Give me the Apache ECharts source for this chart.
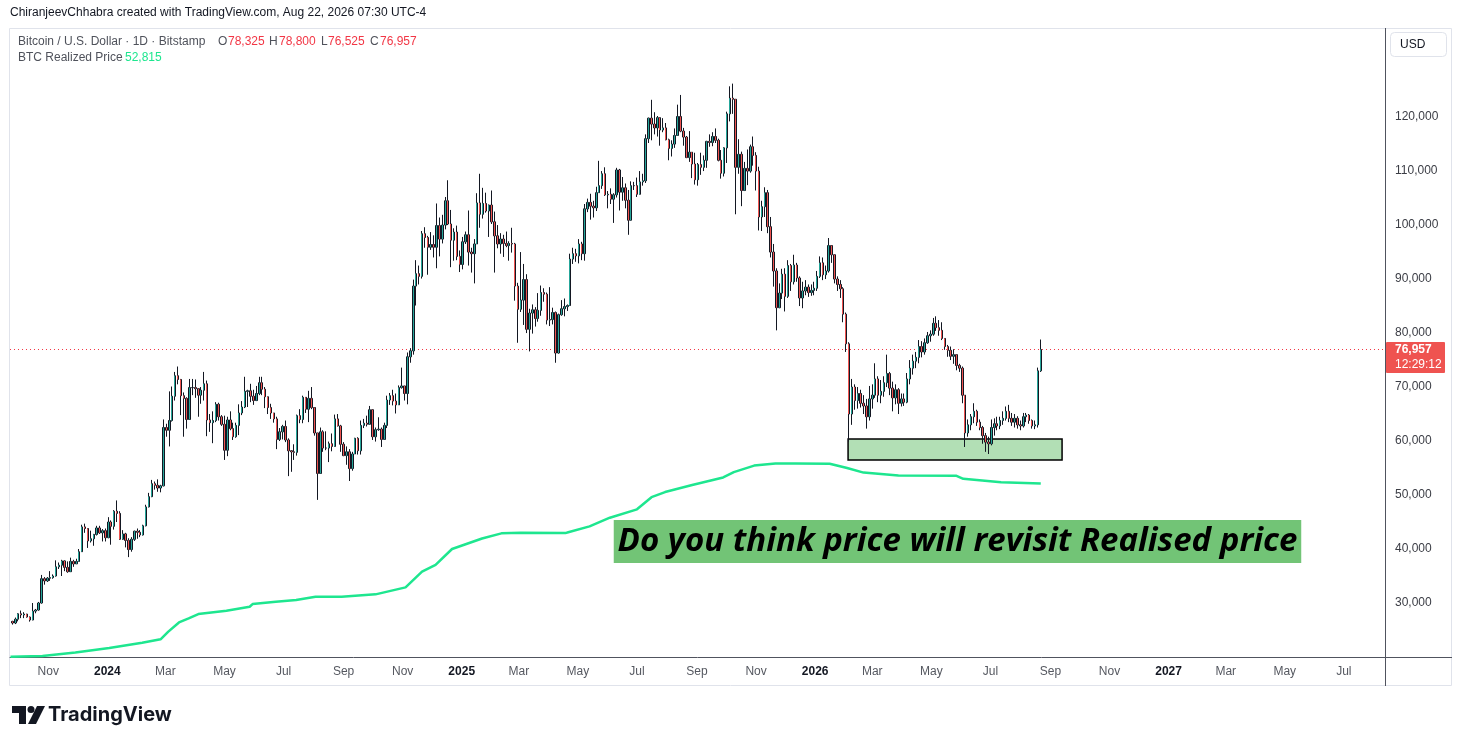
<!DOCTYPE html>
<html>
<head>
<meta charset="utf-8">
<script src="https://cdn.jsdelivr.net/npm/echarts@6.0.0/dist/echarts.min.js"></script>
<style>
html,body{margin:0;padding:0;background:#fff;}
#chart{width:1461px;height:745px;}
</style>
</head>
<body>
<div id="chart"></div>
<script>
// ---------------- DATA ----------------
// 3-day candles (values in thousands USD), first candle ends 2023-09-25, last ends 2026-08-22
const candleStart = '2023-09-25';
const candleStepDays = 3;
const firstOpen = 26.6;
const closes = [
  26.3, 27.0, 28.0, 27.8, 27.95, 27.4, 26.85, 28.5, 28.7, 30.0,
  34.5, 34.1, 34.6, 34.7, 35.0, 36.7, 37.0, 37.8, 36.6, 35.8,
  37.7, 37.25, 37.7, 39.5, 44.1, 43.8, 41.5, 41.9, 42.7, 43.9,
  43.0, 43.4, 42.1, 45.0, 44.2, 47.0, 46.6, 41.8, 42.8, 41.6,
  39.9, 41.8, 43.3, 43.1, 42.6, 44.3, 47.8, 49.7, 52.1, 51.8,
  51.3, 51.7, 62.5, 62.0, 63.8, 68.3, 72.1, 71.4, 68.4, 67.9,
  64.0, 69.9, 69.9, 69.7, 68.5, 69.4, 70.6, 63.9, 63.4, 63.8,
  66.8, 64.5, 63.1, 58.3, 63.9, 62.3, 60.8, 62.9, 65.2, 66.3,
  69.2, 69.3, 68.3, 67.5, 68.8, 70.8, 69.6, 68.2, 66.2, 65.2,
  64.1, 60.3, 61.7, 62.7, 60.2, 58.2, 58.0, 57.9, 64.7, 64.0,
  68.1, 65.9, 67.9, 66.2, 61.5, 54.0, 61.7, 58.7, 58.7, 59.5,
  59.0, 64.1, 62.8, 59.4, 57.3, 58.0, 54.9, 57.6, 60.5, 58.2,
  62.9, 63.3, 63.1, 65.8, 60.8, 62.1, 62.2, 60.3, 62.9, 67.6,
  68.4, 67.4, 66.7, 69.9, 70.2, 68.8, 75.6, 76.7, 88.7, 91.0,
  90.5, 98.4, 97.7, 95.9, 96.4, 95.9, 99.9, 97.4, 100.0, 104.5,
  100.2, 97.2, 98.7, 94.2, 92.7, 96.9, 98.2, 95.0, 94.7, 96.5,
  104.1, 102.0, 104.0, 102.6, 103.7, 100.6, 98.0, 96.5, 97.4, 96.6,
  96.2, 96.6, 96.5, 88.7, 84.4, 86.1, 89.9, 80.7, 83.7, 84.3,
  82.7, 84.2, 87.5, 87.2, 82.4, 82.5, 83.8, 76.3, 83.4, 84.5,
  84.9, 85.1, 93.7, 94.7, 94.3, 96.5, 94.7, 103.0, 104.2, 103.5,
  103.2, 106.0, 107.3, 109.5, 105.6, 105.7, 104.8, 105.6, 110.2, 106.1,
  106.9, 104.6, 100.9, 107.3, 107.3, 105.7, 108.0, 108.2, 116.0, 119.8,
  118.7, 118.0, 119.9, 117.6, 118.0, 115.8, 114.2, 115.0, 116.6, 120.1,
  117.4, 116.3, 112.5, 113.5, 111.3, 108.4, 111.2, 110.7, 112.0, 115.5,
  115.3, 116.4, 115.7, 112.0, 109.6, 114.3, 120.6, 123.5, 123.3, 110.7,
  113.1, 106.4, 110.5, 110.0, 114.5, 112.9, 110.0, 101.5, 103.4, 106.0,
  99.7, 95.0, 91.5, 84.7, 87.4, 90.9, 86.8, 92.5, 89.5, 92.6,
  90.2, 86.5, 87.8, 88.5, 87.5, 87.9, 88.3, 90.5, 93.0, 90.8,
  91.5, 96.2, 94.5, 90.0, 89.0, 88.2, 83.5, 78.0, 65.0, 70.0,
  67.5, 68.8, 67.0, 66.5, 64.5, 67.8, 68.5, 71.5, 68.5, 69.2,
  70.8, 72.5, 69.8, 68.0, 69.5, 67.0, 67.8, 67.2, 71.5, 73.5,
  74.8, 75.5, 77.5, 76.5, 78.2, 79.5, 79.8, 81.8, 81.0, 80.5,
  79.0, 77.5, 76.8, 75.7, 76.0, 74.0, 73.5, 68.5, 61.5, 63.0,
  64.5, 65.5, 63.5, 62.5, 61.0, 59.8, 59.5, 62.5, 63.2, 62.8,
  63.8, 64.2, 65.5, 64.2, 63.5, 64.2, 63.0, 62.8, 64.5, 64.8,
  63.8, 62.8, 63.0, 73.0, 76.957
];
const highs = [
  26.7, 27.3, 28.1, 28.6, 28.3, 28.0, 27.5, 30.0, 28.9, 30.2,
  35.2, 34.8, 34.8, 35.9, 35.3, 37.9, 37.5, 38.0, 37.9, 37.7,
  38.4, 38.0, 38.2, 40.0, 44.5, 44.7, 43.8, 43.4, 42.8, 44.3,
  44.3, 43.7, 43.8, 45.9, 45.3, 47.2, 49.0, 47.0, 43.5, 43.0,
  42.0, 42.2, 43.4, 43.8, 43.5, 44.5, 48.2, 50.4, 52.8, 52.5,
  52.9, 51.9, 64.0, 63.2, 69.2, 70.1, 72.8, 73.8, 71.5, 69.0,
  68.1, 71.5, 71.5, 71.4, 69.8, 70.0, 72.8, 71.2, 65.0, 65.5,
  67.2, 67.1, 64.8, 64.7, 64.5, 65.5, 63.4, 63.4, 66.8, 67.4,
  71.9, 69.5, 70.6, 69.5, 70.2, 71.9, 71.9, 70.0, 68.2, 66.9,
  65.2, 64.5, 62.4, 63.0, 63.8, 60.5, 58.3, 59.4, 64.9, 65.9,
  68.4, 68.0, 69.3, 70.0, 66.2, 61.5, 62.5, 62.0, 61.8, 59.9,
  61.4, 64.9, 65.0, 63.0, 59.8, 59.0, 58.5, 58.0, 60.6, 60.7,
  63.8, 64.1, 64.7, 66.5, 65.9, 62.5, 64.4, 62.5, 63.4, 68.4,
  68.9, 69.5, 68.8, 70.3, 73.6, 70.2, 76.4, 77.2, 89.9, 93.5,
  92.5, 98.9, 99.6, 98.0, 98.7, 98.1, 104.0, 101.4, 101.9, 105.2,
  108.3, 102.8, 99.4, 99.9, 95.3, 97.8, 98.8, 102.7, 95.8, 97.4,
  105.9, 109.5, 106.9, 106.0, 103.8, 106.4, 102.5, 100.0, 98.5, 98.2,
  98.8, 97.0, 99.5, 96.7, 89.3, 95.0, 92.8, 90.9, 84.5, 85.3,
  84.8, 87.4, 88.8, 88.3, 87.5, 88.5, 84.7, 84.0, 83.6, 86.1,
  86.4, 85.3, 94.7, 95.8, 95.6, 97.4, 96.9, 103.9, 104.9, 105.8,
  104.5, 107.1, 111.9, 110.0, 110.7, 106.3, 106.8, 105.9, 110.6, 110.4,
  108.9, 107.7, 106.5, 108.1, 108.0, 108.8, 110.0, 109.5, 116.8, 119.9,
  123.2, 120.9, 120.2, 120.0, 119.8, 118.9, 116.0, 115.7, 117.9, 122.3,
  124.1, 118.0, 116.5, 117.4, 113.5, 113.4, 111.5, 113.4, 112.9, 115.6,
  116.8, 117.2, 117.9, 116.0, 113.9, 114.4, 121.0, 125.7, 126.2, 123.3,
  115.9, 113.6, 111.7, 114.0, 114.9, 116.4, 113.5, 110.8, 104.5, 107.0,
  106.5, 101.5, 96.5, 92.0, 89.2, 91.9, 92.0, 93.5, 92.8, 94.5,
  93.0, 90.5, 89.5, 89.8, 89.0, 89.0, 89.5, 91.5, 94.2, 94.0,
  92.5, 97.6, 96.3, 94.5, 90.5, 89.8, 88.5, 83.8, 78.3, 71.5,
  70.5, 70.0, 69.5, 68.5, 67.8, 70.2, 70.5, 74.4, 72.0, 71.3,
  72.0, 76.0, 72.8, 71.0, 70.5, 69.8, 68.8, 68.8, 72.6, 75.0,
  76.0, 76.5, 78.7, 78.5, 79.0, 80.2, 80.5, 82.8, 83.1, 82.4,
  82.0, 78.8, 77.8, 77.5, 77.0, 75.0, 74.3, 73.8, 68.5, 64.0,
  65.0, 67.0, 65.8, 64.0, 62.8, 61.5, 60.8, 64.0, 64.2, 64.5,
  64.5, 65.5, 66.4, 66.7, 65.2, 65.0, 64.6, 63.8, 65.2, 65.2,
  65.0, 64.0, 63.8, 73.6, 78.8
];
const lows = [
  26.0, 26.1, 26.6, 27.2, 27.2, 27.3, 26.55, 26.8, 28.1, 28.6,
  29.9, 33.4, 33.9, 34.1, 34.5, 34.9, 36.3, 35.0, 35.9, 35.6,
  36.8, 36.7, 37.5, 37.7, 39.8, 43.0, 40.2, 41.2, 40.6, 42.5,
  42.8, 41.4, 41.4, 42.0, 40.8, 43.6, 45.0, 41.7, 41.7, 40.3,
  38.5, 39.5, 41.5, 41.9, 42.2, 42.5, 44.2, 47.7, 49.6, 51.0,
  50.6, 50.5, 51.6, 60.8, 59.0, 63.6, 67.5, 70.5, 64.8, 60.8,
  62.3, 63.9, 68.5, 68.0, 64.5, 66.9, 67.5, 60.9, 61.7, 59.6,
  63.5, 63.8, 62.8, 56.5, 57.2, 62.0, 60.2, 60.6, 61.1, 64.8,
  66.1, 66.3, 67.2, 66.7, 67.4, 68.5, 68.5, 66.1, 65.0, 64.1,
  63.4, 58.5, 60.0, 60.3, 59.8, 53.5, 54.3, 56.5, 57.3, 63.3,
  63.3, 65.2, 63.5, 65.9, 61.0, 49.1, 54.7, 58.0, 58.3, 56.1,
  58.1, 59.5, 62.7, 58.0, 57.2, 55.6, 52.6, 54.5, 57.6, 57.5,
  57.5, 62.4, 62.7, 63.8, 60.2, 59.9, 61.9, 58.9, 60.2, 62.4,
  66.7, 66.6, 65.1, 66.8, 69.7, 67.5, 66.8, 74.5, 76.0, 85.1,
  89.0, 90.1, 95.8, 90.8, 95.4, 94.0, 92.0, 94.2, 96.6, 99.2,
  100.0, 92.2, 93.4, 93.5, 91.3, 91.8, 96.5, 92.5, 91.2, 89.2,
  96.5, 99.5, 101.2, 102.3, 97.8, 100.2, 91.2, 95.7, 94.7, 94.1,
  95.9, 93.4, 94.9, 86.0, 78.2, 83.9, 81.5, 80.0, 76.6, 79.9,
  81.2, 82.1, 83.2, 85.8, 81.6, 81.3, 81.6, 74.5, 76.2, 83.2,
  83.1, 84.1, 85.1, 92.8, 93.2, 92.9, 93.5, 93.4, 102.4, 101.0,
  101.4, 102.6, 106.0, 106.7, 105.4, 103.1, 103.9, 100.4, 105.1, 102.7,
  104.5, 103.1, 98.2, 100.8, 106.5, 105.2, 105.9, 107.3, 107.8, 115.2,
  115.7, 116.8, 116.4, 114.7, 117.2, 115.7, 112.0, 112.7, 114.3, 116.6,
  117.2, 114.7, 112.4, 111.7, 108.7, 107.5, 107.3, 109.3, 110.0, 110.6,
  114.5, 114.6, 115.2, 111.8, 108.6, 109.0, 111.5, 119.2, 120.6, 102.0,
  109.5, 103.5, 106.3, 107.4, 109.7, 111.0, 106.4, 99.0, 98.9, 101.5,
  98.5, 94.0, 88.6, 80.5, 84.6, 86.3, 84.0, 86.5, 87.8, 89.0,
  89.5, 85.0, 84.6, 87.0, 86.7, 86.9, 87.0, 87.8, 90.2, 89.8,
  90.0, 91.2, 93.0, 89.2, 87.8, 86.5, 82.0, 76.5, 59.9, 63.0,
  65.8, 66.0, 66.2, 65.0, 62.3, 63.8, 66.0, 68.0, 67.2, 67.0,
  68.2, 70.0, 68.5, 65.5, 66.8, 65.0, 66.4, 66.5, 67.0, 70.5,
  72.3, 73.5, 74.4, 75.5, 76.0, 78.0, 78.4, 79.5, 80.4, 79.5,
  78.7, 76.9, 75.6, 75.0, 74.3, 73.1, 72.8, 67.0, 58.9, 60.8,
  62.0, 63.3, 62.8, 62.0, 59.5, 58.0, 57.6, 59.2, 61.0, 62.0,
  62.2, 63.0, 63.8, 63.5, 62.8, 62.5, 62.3, 62.0, 62.5, 63.5,
  63.2, 62.3, 62.2, 62.5, 72.8
];

// BTC Realized Price (USD)
const realizedDates = ['2023-09-23','2023-10-26','2023-11-29','2024-01-03','2024-02-06','2024-02-25','2024-03-04','2024-03-15','2024-03-25','2024-04-04','2024-05-03','2024-05-27','2024-05-30','2024-06-23','2024-07-14','2024-08-03','2024-08-30','2024-10-04','2024-11-04','2024-11-21','2024-12-05','2024-12-22','2025-01-22','2025-02-11','2025-03-03','2025-04-18','2025-04-21','2025-05-13','2025-06-03','2025-07-01','2025-07-16','2025-07-30','2025-08-27','2025-09-28','2025-10-09','2025-10-30','2025-11-21','2025-12-12','2026-01-16','2026-02-03','2026-02-20','2026-03-28','2026-05-27','2026-06-03','2026-07-12','2026-08-22'];
const realizedValues = [20050,20180,20850,21650,22650,23270,24700,26400,27150,27950,28580,29300,29800,30250,30550,31150,31170,31600,32900,35800,37050,40000,41950,42900,43000,42950,43100,44200,45800,47350,49600,50550,51850,53250,54250,55450,55850,55850,55800,55000,54150,53600,53550,53000,52350,52150];

// axis range / ticks
const axisStartDate = '2023-09-23';
const axisEndDate = '2027-08-12';
const monthNames = ['Jan','Feb','Mar','Apr','May','Jun','Jul','Aug','Sep','Oct','Nov','Dec'];
const yMin = 20000, yMax = 136500, yStep = 10000;
const yLabelMin = 30000, yLabelMax = 120000;

// annotation boxes
const supportBox = {from: '2026-02-04', to: '2026-09-13', top: 60370, bottom: 56480};
const noteBox = {from: '2025-06-07', to: '2027-05-18', top: 45370, bottom: 37400, text: 'Do you think price will revisit Realised price'};

// header / legend texts
const headerText = 'ChiranjeevChhabra created with TradingView.com, Aug 22, 2026 07:30 UTC-4';
const symbolText = 'Bitcoin / U.S. Dollar · 1D · Bitstamp';
const ohlcText = [['O','78,325'],['H','78,800'],['L','76,525'],['C','76,957']];
const lastPrice = 76957;
const countdown = '12:29:12';
const realizedLegend = ['BTC Realized Price', '52,815'];

// ---------------- BUILD ----------------
const DAY = 86400000;
function iso(t){ return new Date(t).toISOString().slice(0,10); }
function parse(s){ const p = s.split('-'); return Date.UTC(+p[0], +p[1]-1, +p[2]); }

const days = [];
for (let t = parse(axisStartDate); t <= parse(axisEndDate); t += DAY) days.push(iso(t));

const wickRows = [], bodyRows = [];
const c0 = parse(candleStart);
for (let k = 0; k < closes.length; k++) {
  const d = iso(c0 + k * candleStepDays * DAY);
  const o = (k === 0 ? firstOpen : closes[k-1]) * 1000;
  const c = closes[k] * 1000;
  const h = Math.max(highs[k] * 1000, o, c);
  const l = Math.min(lows[k] * 1000, o, c);
  wickRows.push([d, o, c, l, h]);
  bodyRows.push([d, o, c, Math.min(o, c), Math.max(o, c)]);
}
const realizedRows = realizedDates.map((d, i) => [d, realizedValues[i]]);

const UI_FONT = '"Liberation Sans", Arial, sans-serif';
const UP = '#26a69a', DOWN = '#ef5350', WICK = '#131722';

const chart = echarts.init(document.getElementById('chart'), null, {renderer: 'canvas'});

const option = {
  animation: false,
  backgroundColor: '#ffffff',
  grid: {left: 10, right: 76, top: 28, bottom: 88, containLabel: false},
  xAxis: {
    type: 'category',
    data: days,
    boundaryGap: true,
    axisLine: {show: true, lineStyle: {color: '#50535e', width: 1}},
    axisTick: {show: false},
    splitLine: {show: false},
    axisLabel: {
      interval: function (i, v) { return v.slice(8) === '01' && (+v.slice(5,7)) % 2 === 1; },
      formatter: function (v) { const m = +v.slice(5,7); return m === 1 ? '{y|' + v.slice(0,4) + '}' : monthNames[m-1]; },
      color: '#555860', fontSize: 12, fontFamily: UI_FONT, margin: 9,
      rich: {y: {fontWeight: 'bold', color: '#131722', fontSize: 12, fontFamily: UI_FONT}}
    }
  },
  yAxis: {
    type: 'value',
    position: 'right',
    min: yMin, max: yMax, interval: yStep,
    axisLine: {show: false},
    axisTick: {show: false},
    splitLine: {show: false},
    axisLabel: {
      margin: 10, color: '#3b3d45', fontSize: 12, fontFamily: UI_FONT,
      formatter: function (v) { return (v < yLabelMin || v > yLabelMax) ? '' : v.toLocaleString('en-US'); }
    }
  },
  series: [
    {
      name: 'BTC Realized Price',
      type: 'line',
      data: realizedRows,
      showSymbol: false,
      symbol: 'none',
      lineStyle: {color: '#1ee68f', width: 2.5},
      z: 2,
      markArea: {
        silent: true,
        data: [
          [
            {xAxis: supportBox.from, yAxis: supportBox.top, itemStyle: {color: '#b2dfb5', borderColor: '#000000', borderWidth: 1.5}, label: {show: false}},
            {xAxis: supportBox.to, yAxis: supportBox.bottom}
          ],
          [
            {xAxis: noteBox.from, yAxis: noteBox.top, itemStyle: {color: '#72c476', borderWidth: 0},
             label: {show: true, position: 'inside', formatter: noteBox.text, color: '#000000', fontSize: 33, fontStyle: 'italic', fontWeight: 'bold', fontFamily: '"Open Sans", "DejaVu Sans", sans-serif'}},
            {xAxis: noteBox.to, yAxis: noteBox.bottom}
          ]
        ]
      }
    },
    {
      name: 'wicks',
      type: 'candlestick',
      data: wickRows,
      encode: {x: 0, y: [1, 2, 3, 4]},
      barWidth: 2,
      itemStyle: {color: WICK, color0: WICK, borderColor: WICK, borderColor0: WICK, borderWidth: 1},
      z: 3
    },
    {
      name: 'bodies',
      type: 'candlestick',
      data: bodyRows,
      encode: {x: 0, y: [1, 2, 3, 4]},
      barWidth: 1,
      itemStyle: {color: UP, color0: DOWN, borderColor: UP, borderColor0: DOWN, borderWidth: 1},
      z: 4
    }
  ]
};
chart.setOption(option);

// ---------------- DECORATION ----------------
const py = chart.convertToPixel({yAxisIndex: 0}, lastPrice);
const pyLine = Math.round(py) + 0.5;
function txt(text, x, y, fill, size, weight, family) {
  return {type: 'text', silent: true, z: 100, style: {text: text, x: x, y: y, fill: fill, fontSize: size, fontWeight: weight || 'normal', fontFamily: family || UI_FONT, verticalAlign: 'middle', align: 'left'}};
}
const graphics = [
  {type: 'rect', silent: true, z: 0, shape: {x: 9.5, y: 28.5, width: 1442, height: 657}, style: {fill: 'none', stroke: '#e0e3eb', lineWidth: 1}},
  {type: 'line', silent: true, z: 1, shape: {x1: 10, y1: pyLine, x2: 1385, y2: pyLine}, style: {stroke: '#f23645', lineWidth: 1, lineDash: [1, 3]}},
  {type: 'line', silent: true, z: 50, shape: {x1: 1385.5, y1: 28, x2: 1385.5, y2: 686}, style: {stroke: '#50535e', lineWidth: 1}},
  {type: 'line', silent: true, z: 50, shape: {x1: 1385, y1: 657.5, x2: 1452, y2: 657.5}, style: {stroke: '#50535e', lineWidth: 1}},
  {type: 'rect', silent: true, z: 50, shape: {x: 1390.5, y: 32.5, width: 56, height: 24, r: 4}, style: {fill: '#ffffff', stroke: '#e0e3eb', lineWidth: 1}},
  txt('USD', 1400, 45, '#131722', 12),
  txt(headerText, 10, 13, '#131722', 12),
  txt(symbolText, 18, 42, '#4f525b', 12),
  txt(realizedLegend[0], 18, 58, '#4f525b', 12),
  txt(realizedLegend[1], 125, 58, '#1ee68f', 12)
];
const ohlcX = [218, 269, 321, 370];
ohlcText.forEach(function (p, i) {
  graphics.push(txt(p[0], ohlcX[i], 42, '#4f525b', 12));
  graphics.push(txt(p[1], ohlcX[i] + (p[0] === 'L' ? 7 : 10), 42, '#f23645', 12));
});
// last price tag on price scale
graphics.push({type: 'rect', silent: true, z: 60, shape: {x: 1386, y: py - 7.5, width: 59, height: 31, r: 1}, style: {fill: '#ef5350'}});
graphics.push(txt(lastPrice.toLocaleString('en-US'), 1395, py + 0.5, '#ffffff', 12, 'bold'));
graphics.push(txt(countdown, 1395, py + 15.5, '#ffffff', 12));
// TradingView logo
graphics.push({type: 'polygon', silent: true, shape: {points: [[12,706],[26,706],[26,724],[19,724],[19,713],[12,713]]}, style: {fill: '#131722'}});
graphics.push({type: 'circle', silent: true, shape: {cx: 31, cy: 709.5, r: 3.5}, style: {fill: '#131722'}});
graphics.push({type: 'polygon', silent: true, shape: {points: [[37,706],[45,706],[36,724],[28,724]]}, style: {fill: '#131722'}});
graphics.push(txt('TradingView', 48, 715, '#131722', 20, 'bold', 'Inter, "Liberation Sans", sans-serif'));

chart.setOption({graphic: graphics});
</script>
</body>
</html>
